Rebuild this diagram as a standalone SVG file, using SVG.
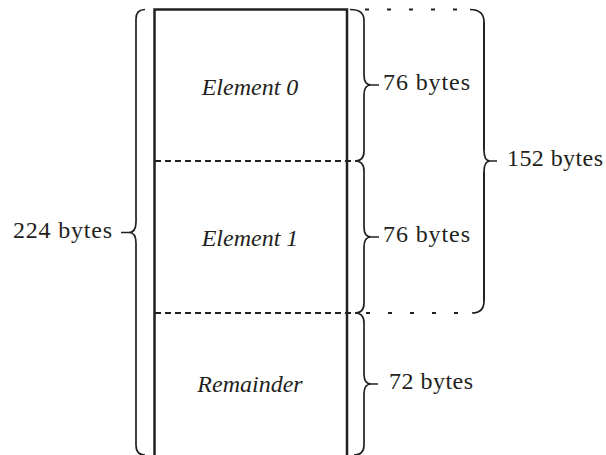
<svg xmlns="http://www.w3.org/2000/svg" width="606" height="455" viewBox="0 0 606 455">
<style>
  .box{fill:none;stroke:#231f20;stroke-width:2.5}
  .dash{fill:none;stroke:#231f20;stroke-width:1.8;stroke-dasharray:6 4}
  .dot{fill:none;stroke:#231f20;stroke-width:1.8;stroke-dasharray:4 18}
  .brace{fill:none;stroke:#231f20;stroke-width:1.7;stroke-linecap:butt}
  text{fill:#231f20;font-size:24px}
  .it{font-style:italic}
</style>
<rect width="606" height="455" fill="#fff"/>
<g id="memory-block">
  <path class="box" d="M154.5,460 L154.5,9.5 L347,9.5 L347,460"/>
</g>
<g id="element0">
  <text class="it" font-family="Liberation Serif, DejaVu Serif, serif" x="250" y="95" text-anchor="middle">Element 0</text>
</g>
<g id="element1">
  <path class="dash" d="M155,161 L355,161"/>
  <text class="it" font-family="Liberation Serif, DejaVu Serif, serif" x="250" y="246" text-anchor="middle">Element 1</text>
</g>
<g id="remainder">
  <path class="dash" d="M155,313 L355,313"/>
  <text class="it" font-family="Liberation Serif, DejaVu Serif, serif" x="250" y="391.5" text-anchor="middle">Remainder</text>
</g>
<g id="connectors">
  <path class="dot" d="M365,9.5 L470,9.5"/>
  <path class="dot" d="M366,313 L472,313"/>
  <path class="brace" d="M145,9.5 Q136,9.5 136,19 L136,222 Q136,232.5 129,232.5 L121,232.5 M129,232.5 Q136,232.5 136,243 L136,445 Q136,455 145,455"/>
  <path class="brace" d="M350,9.5 Q364,9.5 364,20 L364,75 Q364,85 371,85 L379,85 M371,85 Q364,85 364,95 L364,151 Q364,161 355,161"/>
  <path class="brace" d="M355,161 Q364,161 364,171 L364,227 Q364,237 371,237 L379,237 M371,237 Q364,237 364,247 L364,303 Q364,313 355,313"/>
  <path class="brace" d="M355,313 Q364,313 364,323 L364,374 Q364,384 371,384 L378,384 M371,384 Q364,384 364,394 L364,445 Q364,455 354,455"/>
  <path class="brace" d="M470,9.5 Q484,9.5 484,22 L484,150 Q484,161 490,161 L497,161 M490,161 Q484,161 484,172 L484,301 Q484,313 472,313"/>
  <path class="brace" stroke-width="2.8" d="M484,22 L484,150 M484,172 L484,301"/>
</g>
<g id="labels" font-family="Liberation Serif, DejaVu Serif, serif">
  <text x="13" y="238" textLength="99" lengthAdjust="spacing">224 bytes</text>
  <text x="383" y="90" textLength="87" lengthAdjust="spacing">76 bytes</text>
  <text x="383" y="242" textLength="87" lengthAdjust="spacing">76 bytes</text>
  <text x="389" y="389" textLength="84" lengthAdjust="spacing">72 bytes</text>
  <text x="507" y="166" textLength="96" lengthAdjust="spacing">152 bytes</text>
</g>
</svg>
